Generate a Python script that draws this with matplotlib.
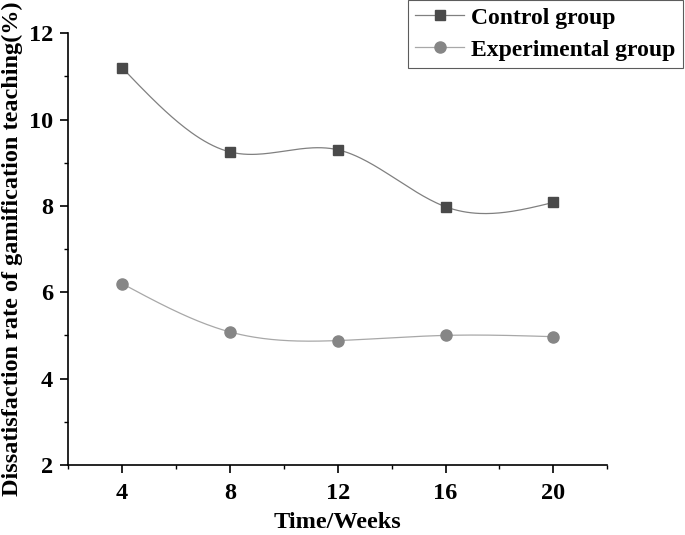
import numpy as np
import matplotlib
matplotlib.use("Agg")
import matplotlib.pyplot as plt

plt.rcParams['font.family'] = ['Liberation Serif', 'DejaVu Serif']
plt.rcParams['font.weight'] = 'bold'

weeks = [4, 8, 12, 16, 20]
control = [11.2, 9.25, 9.3, 7.98, 8.08]
experimental = [6.2, 5.08, 4.88, 5.0, 4.97]


# natural cubic spline, like the Origin "spline" connector
def spline(x, y, n=200):
    x = np.asarray(x, float)
    y = np.asarray(y, float)
    m = len(x)
    h = np.diff(x)
    A = np.zeros((m, m))
    b = np.zeros(m)
    A[0, 0] = 1
    A[-1, -1] = 1
    for i in range(1, m - 1):
        A[i, i - 1] = h[i - 1]
        A[i, i] = 2 * (h[i - 1] + h[i])
        A[i, i + 1] = h[i]
        b[i] = 6 * ((y[i + 1] - y[i]) / h[i] - (y[i] - y[i - 1]) / h[i - 1])
    M = np.linalg.solve(A, b)
    xs = np.linspace(x[0], x[-1], n)
    idx = np.clip(np.searchsorted(x, xs) - 1, 0, m - 2)
    x0, x1 = x[idx], x[idx + 1]
    hi = h[idx]
    ys = (M[idx] * (x1 - xs) ** 3 / (6 * hi) + M[idx + 1] * (xs - x0) ** 3 / (6 * hi)
          + (y[idx] / hi - M[idx] * hi / 6) * (x1 - xs)
          + (y[idx + 1] / hi - M[idx + 1] * hi / 6) * (xs - x0))
    return xs, ys


fig = plt.figure(figsize=(6.85, 5.35), dpi=100)
ax = fig.add_axes([0.0995, 0.131, 0.787, 0.807])

xs, ys = spline(weeks, control)
ax.plot(xs, ys, color='#808080', lw=0.9)
ax.plot(weeks, control, 's', color='#4a4a4a', ms=7.5, ls='none')
xs, ys = spline(weeks, experimental)
ax.plot(xs, ys, color='#a8a8a8', lw=0.9)
ax.plot(weeks, experimental, 'o', color='#868686', ms=8, ls='none')

h1 = plt.Line2D([], [], color='#808080', lw=0.9, marker='s', mfc='#4a4a4a', mec='#4a4a4a', ms=7)
h2 = plt.Line2D([], [], color='#a8a8a8', lw=0.9, marker='o', mfc='#868686', mec='#868686', ms=8)
leg = fig.legend([h1, h2], ['Control group', 'Experimental group'], loc='upper right',
                 bbox_to_anchor=(0.997, 1.0), fontsize=17, frameon=True, fancybox=False,
                 edgecolor='#333333', handlelength=2.1, handletextpad=0.3,
                 borderpad=0.3, labelspacing=0.45, borderaxespad=0)
leg.get_frame().set_linewidth(0.8)

ax.set_xlim(2, 22)
ax.set_ylim(2, 12)
ax.set_xticks(weeks)
ax.set_xticks([2, 6, 10, 14, 18, 22], minor=True)
ax.set_yticks([2, 4, 6, 8, 10, 12])
ax.set_yticks([3, 5, 7, 9, 11], minor=True)
ax.spines['top'].set_visible(False)
ax.spines['right'].set_visible(False)
ax.spines['left'].set_linewidth(1.2)
ax.spines['bottom'].set_linewidth(1.2)
ax.tick_params(which='major', length=6, width=1.2, labelsize=17.5)
ax.tick_params(axis='x', which='major', pad=7)
ax.tick_params(axis='y', which='major', pad=5)
ax.tick_params(which='minor', length=3, width=1.0)

ax.set_xlabel('Time/Weeks', fontsize=17.5, fontweight='bold', labelpad=6)
ax.set_ylabel('Dissatisfaction rate of gamification teaching(%)', fontsize=17.5,
              fontweight='bold', labelpad=4)

fig.savefig('out.png', dpi=100)
